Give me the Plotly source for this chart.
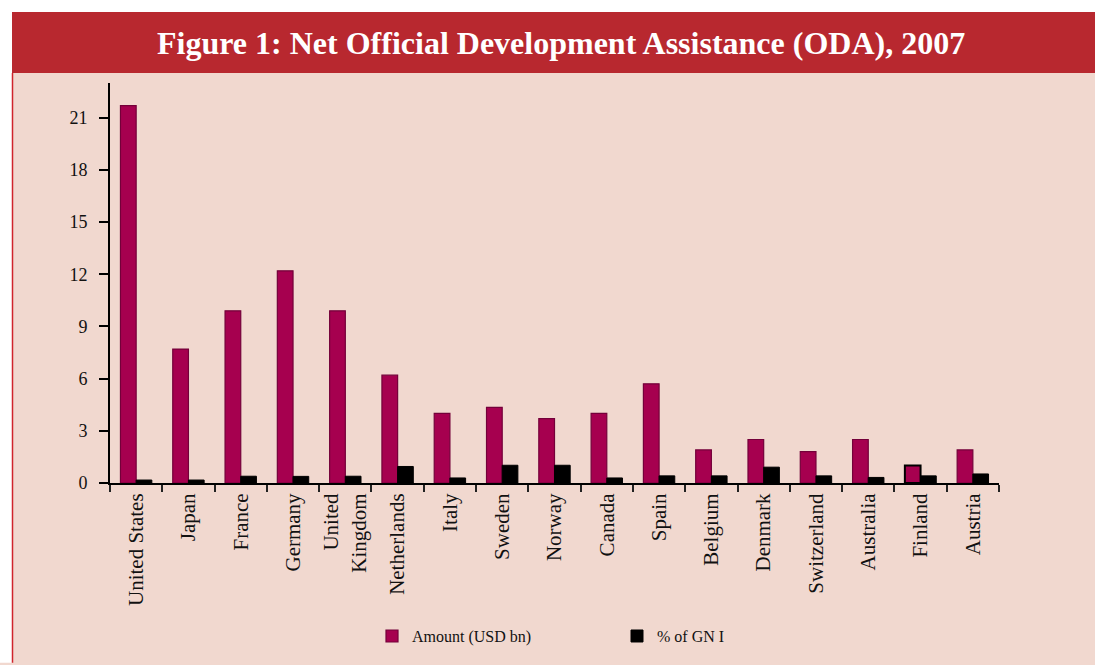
import plotly.graph_objects as go

countries = ["United States", "Japan", "France", "Germany", "United<br>Kingdom",
             "Netherlands", "Italy", "Sweden", "Norway", "Canada", "Spain",
             "Belgium", "Denmark", "Switzerland", "Australia", "Finland", "Austria"]
amount_usd_bn = [21.7, 7.7, 9.9, 12.2, 9.9, 6.2, 4.0, 4.35, 3.7, 4.0, 5.7,
                 1.9, 2.5, 1.8, 2.5, 1.0, 1.9]
pct_of_gni = [0.17, 0.17, 0.39, 0.38, 0.39, 0.95, 0.29, 1.02, 1.02, 0.29, 0.41,
              0.41, 0.91, 0.41, 0.32, 0.41, 0.52]
y_ticks = [0, 3, 6, 9, 12, 15, 18, 21]

TITLE = "Figure 1: Net Official Development Assistance (ODA), 2007"
PINK = "#F1D8CF"
RED = "#B8282F"
BAR = "#A6004F"
BAR_LINE = "#74003A"

W, H = 1095, 665
ML, MR, MT, MB = 110, 96, 83, 177
PW = W - ML - MR
PH = H - MT - MB


def px_x(px):
    return (px - ML) / PW


def px_y(py):
    return (H - MB - py) / PH


amount_line_colors = [BAR_LINE] * len(countries)
amount_line_colors[countries.index("Finland")] = "#000000"
amount_line_widths = [1.2] * len(countries)
amount_line_widths[countries.index("Finland")] = 2

fig = go.Figure()
fig.add_trace(go.Bar(
    x=countries, y=amount_usd_bn, name="Amount (USD bn)",
    marker=dict(color=BAR, line=dict(color=amount_line_colors, width=amount_line_widths)),
))
fig.add_trace(go.Bar(
    x=countries, y=pct_of_gni, name="% of GN I",
    marker=dict(color="#000000", line=dict(color="#000000", width=1)),
))

shapes = [
    # white strip above the banner
    dict(type="rect", xref="paper", yref="paper", x0=px_x(-5), x1=px_x(W + 5),
         y0=px_y(11), y1=px_y(-5), fillcolor="white", line=dict(width=0), layer="below"),
    # white strip left of the panel
    dict(type="rect", xref="paper", yref="paper", x0=px_x(-5), x1=px_x(12),
         y0=px_y(H + 5), y1=px_y(-5), fillcolor="white", line=dict(width=0), layer="below"),
    # red banner
    dict(type="rect", xref="paper", yref="paper", x0=px_x(12), x1=px_x(W + 5),
         y0=px_y(73), y1=px_y(11), fillcolor=RED, line=dict(width=0), layer="below"),
    # thin left red border
    dict(type="line", xref="paper", yref="paper", x0=px_x(12.5), x1=px_x(12.5),
         y0=px_y(H + 5), y1=px_y(73), line=dict(color="#D0242C", width=1.5), layer="below"),
]

fig.update_layout(
    width=W, height=H,
    margin=dict(l=ML, r=MR, t=MT, b=MB, pad=0),
    paper_bgcolor=PINK,
    plot_bgcolor="rgba(0,0,0,0)",
    barmode="group", bargap=0.4, bargroupgap=0,
    font=dict(family="Liberation Serif", color="#111111"),
    shapes=shapes,
    annotations=[dict(
        text="<b>" + TITLE + "</b>", xref="paper", yref="paper",
        x=px_x(561), y=px_y(42), xanchor="center", yanchor="middle",
        showarrow=False, font=dict(family="Liberation Serif", size=32, color="white"),
    )],
    showlegend=True,
    legend=dict(
        orientation="h", xanchor="left", yanchor="middle",
        x=px_x(372), y=px_y(643),
        font=dict(family="Liberation Serif", size=16, color="#111111"),
        bgcolor="rgba(0,0,0,0)", entrywidth=200, entrywidthmode="pixels",
        itemwidth=30, traceorder="normal",
    ),
    xaxis=dict(
        type="category", showgrid=False, showline=True, linecolor="black", linewidth=2,
        ticks="outside", tickson="boundaries", ticklen=7, tickwidth=1.5, tickcolor="#222",
        tickangle=-90, tickfont=dict(family="Liberation Serif", size=21, color="#111"),
        zeroline=False, range=[-0.5, len(countries) - 0.5],
    ),
    yaxis=dict(
        range=[0, 23], tickvals=y_ticks, showgrid=False, zeroline=False,
        showline=True, linecolor="black", linewidth=2,
        ticks="outside", ticklen=9, tickwidth=2, tickcolor="black",
        tickfont=dict(family="Liberation Serif", size=18, color="#111"),
        ticklabelstandoff=8,
    ),
)

fig.write_html(
    "out.html",
    config={"displayModeBar": False},
    post_script="document.body.style.margin='0';document.body.style.overflow='hidden';"
                "document.documentElement.style.overflow='hidden';"
                "document.body.style.background='" + PINK + "';",
)
